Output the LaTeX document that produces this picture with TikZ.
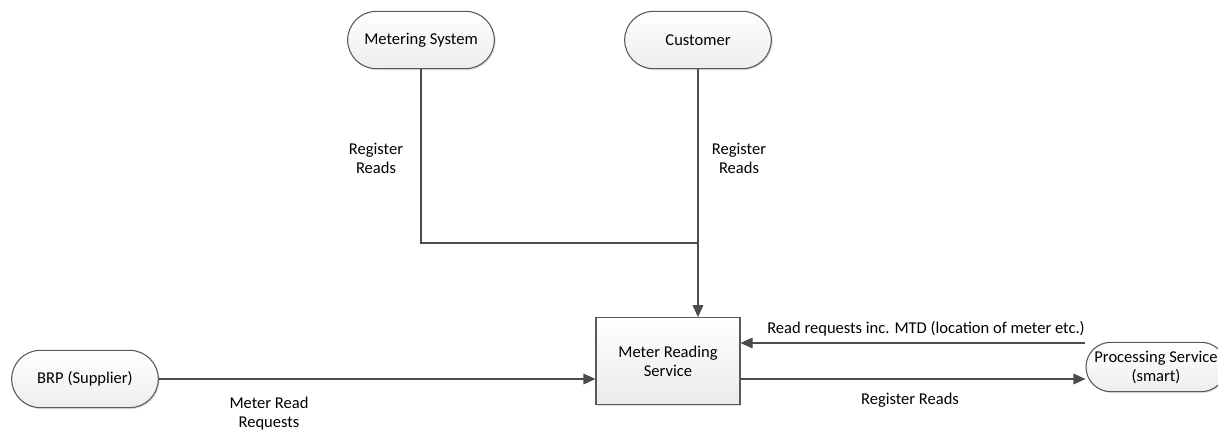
\documentclass[tikz,border=0pt]{standalone}
\usepackage{fontspec}
\setmainfont{Carlito}
\usetikzlibrary{shapes.misc,arrows.meta,shadows}
\begin{document}
\begin{tikzpicture}[x=0.75pt,y=-0.75pt,
  font=\fontsize{12.4}{14.3}\selectfont,
  every node/.style={text=black},
  stadium/.style={rounded rectangle, draw=black!65, line width=0.8pt,
    top color=white, bottom color=black!7, minimum height=43pt, minimum width=110pt,
    inner sep=0pt, align=center, drop shadow={shadow xshift=1pt,shadow yshift=-1pt,opacity=0.25}},
  procbox/.style={rectangle, draw=black!65, line width=0.8pt,
    top color=white, bottom color=black!8, minimum height=65pt, minimum width=108pt,
    inner sep=0pt, align=center, drop shadow={shadow xshift=1pt,shadow yshift=-1pt,opacity=0.25}},
  flow/.style={draw=black!70, line width=0.8pt},
  arr/.style={flow, -{Triangle[length=9pt,width=8pt]}},
  lbl/.style={align=center, inner sep=0pt}]
\useasboundingbox (0,0) rectangle (1218,433);
\fill[white] (0,0) rectangle (1218,433);

\node[stadium] (ms) at (421,40) {Metering System};
\node[stadium] (cu) at (698,40) {Customer};
\node[stadium] (brp) at (85,379) {BRP (Supplier)};
\node[stadium, minimum height=37pt, minimum width=105pt] (ps) at (1156,367) {Processing Service\\(smart)};
\node[procbox] (mrs) at (668,361) {Meter Reading\\Service};

\coordinate (j) at (698,243);
\draw[flow] (ms.south) |- (j);
\draw[arr] (cu.south) -- (mrs.north -| cu.south);

\draw[arr] (brp.east) -- (brp.east -| mrs.west);
\draw[arr] (ps.west |- 0,343) coordinate (pa) -- (pa -| mrs.east);
\draw[arr] (mrs.east |- 0,379) coordinate (pb) -- (pb -| ps.west);

\node[lbl] (l1) at (376,158) {Register\\Reads};
\node[lbl] (l2) at (739,158) {Register\\Reads};
\node[lbl] (l3) at (269,414) {Meter Read\\Requests};
\node[lbl] (l4) at (926,329) {Read requests inc. MTD (location of meter etc.)};
\node[lbl] (l5) at (910,400) {Register Reads};
\end{tikzpicture}
\end{document}
